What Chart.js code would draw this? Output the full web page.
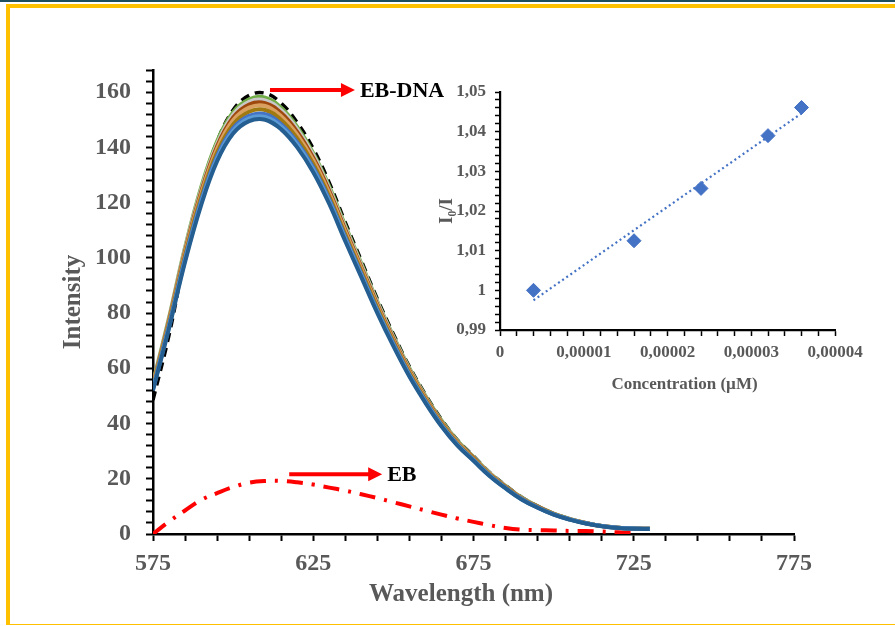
<!DOCTYPE html>
<html lang="en">
<head>
    <meta charset="UTF-8">
    <title>EB-DNA fluorescence</title>
    <script src="https://cdn.jsdelivr.net/npm/chart.js@4.4.1/dist/chart.umd.min.js"></script>
    <style>
        body { margin: 0; background: #fff; }
        #page { position: relative; width: 895px; height: 626px; overflow: hidden; }
        #topLine { position: absolute; left: 0; top: 0; width: 895px; height: 2px; background: #1f4e5f; }
        #frame { position: absolute; left: 6px; top: 4px; width: 900px; height: 621px; border-top: 4px solid #ffc000; border-left: 4px solid #ffc000; border-bottom: 1px solid #ffc000; box-sizing: border-box; }
        #mainChart { position: absolute; left: 0; top: 0; }
        #insetChart { position: absolute; left: 430px; top: 70px; }
    </style>
</head>
<body>
<div id="page">
    <div id="topLine"></div>
    <div id="frame"></div>
    <canvas id="mainChart" width="895" height="626"></canvas>
    <canvas id="insetChart" width="440" height="330"></canvas>
</div>
<script>
    // wavelength grid (nm)
    const wavelength = [575, 580, 585, 590, 595, 600, 605, 610, 615, 620, 625, 630, 635, 640, 645, 650,
        655, 660, 665, 670, 675, 680, 685, 690, 695, 700, 705, 710, 715, 720, 725, 730];

    // EB-DNA spectra with increasing quencher
    const ebDna = [48.5, 72, 100.5, 124.5, 142, 153.5, 158.8, 159.6, 156, 149, 139.5, 127.2, 112.8, 99, 85.1, 72.4,
        60.6, 50.5, 41.5, 34, 28.2, 22.3, 17.6, 13.3, 10.1, 7.4, 5.5, 4, 2.9, 2.3, 2, 1.9];
    const green = [54.8, 78.3, 103.7, 125.4, 142.2, 152.7, 157.4, 158, 154.3, 147.4, 137.9, 125.8, 111.6, 97.9, 84.2, 71.6,
        60, 50, 41.1, 33.7, 27.9, 22.1, 17.4, 13.2, 10, 7.4, 5.5, 4, 2.9, 2.3, 2, 1.9];
    const gray = [54.4, 77.9, 103.2, 124.6, 141.3, 151.8, 156.5, 157, 153.4, 146.6, 137.2, 125.1, 111, 97.4, 83.8, 71.2,
        59.7, 49.7, 40.8, 33.5, 27.7, 22, 17.3, 13.1, 9.9, 7.3, 5.4, 4, 2.9, 2.3, 2, 1.9];
    const brown = [54.1, 77.4, 102.5, 123.8, 140.4, 150.8, 155.5, 156, 152.4, 145.6, 136.2, 124.3, 110.2, 96.7, 83.2, 70.7,
        59.3, 49.4, 40.6, 33.3, 27.6, 21.8, 17.2, 13, 9.9, 7.3, 5.4, 4, 2.9, 2.3, 2, 1.9];
    const orange = [53.7, 76.9, 101.8, 123, 139.5, 149.8, 154.4, 155, 151.3, 144.6, 135.3, 123.4, 109.5, 96.1, 82.6, 70.2,
        58.9, 49.1, 40.3, 33.1, 27.4, 21.7, 17, 12.9, 9.8, 7.2, 5.4, 3.9, 2.9, 2.3, 2, 1.9];
    const gold = [53.2, 76.2, 100.8, 121.8, 138.1, 148.3, 152.9, 153.5, 149.9, 143.2, 134, 122.2, 108.4, 95.1, 81.8, 69.6,
        58.3, 48.6, 39.9, 32.7, 27.1, 21.5, 16.9, 12.8, 9.7, 7.2, 5.3, 3.9, 2.9, 2.3, 2, 1.9];
    const blue = [52.7, 75.5, 99.8, 120.6, 136.8, 146.9, 151.4, 152, 148.4, 141.8, 132.7, 121.1, 107.4, 94.2, 81, 68.9,
        57.7, 48.1, 39.5, 32.4, 26.8, 21.3, 16.7, 12.7, 9.6, 7.1, 5.3, 3.9, 2.9, 2.3, 2, 1.9];
    const lightBlue = [52.5, 75, 99.2, 119.8, 136, 146, 150.5, 151, 147.5, 141, 132, 120.4, 106.8, 93.7, 80.6, 68.5,
        57.4, 47.9, 39.3, 32.3, 26.7, 21.2, 16.6, 12.6, 9.6, 7.1, 5.3, 3.9, 2.9, 2.3, 2, 1.9];
    const darkBlue = [52, 74.5, 98.5, 119, 135, 145, 149.5, 150, 146.5, 140, 131, 119.5, 106, 93, 80, 68,
        57, 47.5, 39, 32, 26.5, 21, 16.5, 12.5, 9.5, 7, 5.2, 3.8, 2.8, 2.2, 1.9, 1.8];

    // free EB (ends at 725 nm)
    const ebFree = [0, 4.5, 8.5, 12.3, 14.8, 17, 18.6, 19.2, 19.2, 18.7, 17.9, 16.8, 15.7, 14.4, 13, 11.5,
        10, 8.5, 7, 5.6, 4.4, 3.2, 2.2, 1.6, 1.4, 1.3, 1.1, 1.1, 0.9, 0.6, 0.3];

    // inset: Stern-Volmer plot
    const concentration = [0.000004, 0.000016, 0.000024, 0.000032, 0.000036];
    const ratioI0I = [1.000, 1.0125, 1.0257, 1.0390, 1.0461];
    const trendX = [0.000004, 0.000036];
    const trendY = [0.9975, 1.0446];

    const serif = "'Liberation Serif', 'Times New Roman', serif";
    const tickGray = '#595959';

    function pts(xs, ys) {
        return ys.map((y, i) => ({ x: xs[i], y: y }));
    }

    function spectrum(values, color, extra) {
        return Object.assign({
            data: pts(wavelength, values),
            borderColor: color,
            borderWidth: 4,
            pointRadius: 0,
            fill: false,
            tension: 0.4
        }, extra || {});
    }

    // red arrows with labels, in data units
    const arrowNotes = [
        { x1: 611.5, x2: 638, y: 160.8, text: 'EB-DNA' },
        { x1: 617.5, x2: 646.5, y: 21.6, text: 'EB' }
    ];

    const arrowPlugin = {
        id: 'arrows',
        afterDatasetsDraw(chart) {
            const ctx = chart.ctx;
            const xs = chart.scales.x, ys = chart.scales.y;
            ctx.save();
            arrowNotes.forEach(a => {
                const x1 = xs.getPixelForValue(a.x1);
                const x2 = xs.getPixelForValue(a.x2);
                const y = ys.getPixelForValue(a.y);
                ctx.strokeStyle = '#ff0000';
                ctx.fillStyle = '#ff0000';
                ctx.lineWidth = 4;
                ctx.beginPath();
                ctx.moveTo(x1, y);
                ctx.lineTo(x2 - 12, y);
                ctx.stroke();
                ctx.beginPath();
                ctx.moveTo(x2, y);
                ctx.lineTo(x2 - 14, y - 7);
                ctx.lineTo(x2 - 14, y + 7);
                ctx.closePath();
                ctx.fill();
                ctx.fillStyle = '#000';
                ctx.font = 'bold 22px ' + serif;
                ctx.textBaseline = 'middle';
                ctx.textAlign = 'left';
                ctx.fillText(a.text, x2 + 5, y + 1);
            });
            ctx.restore();
        }
    };

    new Chart(document.getElementById('mainChart'), {
        type: 'line',
        data: {
            datasets: [
                spectrum(darkBlue, '#255e91'),
                spectrum(lightBlue, '#5b9bd5'),
                spectrum(blue, '#4472c4'),
                spectrum(gold, '#a07a10'),
                spectrum(orange, '#d9a060'),
                spectrum(brown, '#9e480e'),
                spectrum(gray, '#c8c8c8'),
                spectrum(green, '#70ad47'),
                spectrum(ebDna, '#000000', { borderWidth: 3.5, borderDash: [9, 6] }),
                spectrum(ebFree, '#ff0000', { borderWidth: 4, borderDash: [16, 9, 3, 9] })
            ]
        },
        options: {
            responsive: false,
            animation: false,
            layout: { padding: { left: 0, top: 70, right: 101, bottom: 0 } },
            plugins: { legend: { display: false }, tooltip: { enabled: false } },
            scales: {
                x: {
                    type: 'linear',
                    min: 575,
                    max: 775,
                    afterFit: s => { s.height = 92; },
                    border: { color: '#000', width: 2.5 },
                    grid: { drawOnChartArea: false, tickLength: 7, tickColor: '#000', tickWidth: 2 },
                    ticks: {
                        stepSize: 10,
                        autoSkip: false,
                        maxRotation: 0,
                        padding: 8,
                        color: tickGray,
                        font: { family: serif, size: 24, weight: 'bold' },
                        callback: v => ((v - 575) % 50 === 0 ? String(v) : '')
                    },
                    title: {
                        display: true,
                        text: 'Wavelength (nm)\u2007\u2007',
                        color: tickGray,
                        font: { family: serif, size: 25, weight: 'bold' },
                        padding: { top: 0, bottom: 16 }
                    }
                },
                y: {
                    min: 0,
                    max: 168,
                    afterFit: s => { s.width = 153; },
                    border: { color: '#000', width: 2.5 },
                    grid: { drawOnChartArea: false, tickLength: 7, tickColor: '#000', tickWidth: 2 },
                    ticks: {
                        stepSize: 4,
                        autoSkip: false,
                        padding: 15,
                        color: tickGray,
                        font: { family: serif, size: 24, weight: 'bold' },
                        callback: v => (v % 20 === 0 ? String(v) : '')
                    },
                    title: {
                        display: true,
                        text: 'Intensity',
                        color: tickGray,
                        font: { family: serif, size: 25, weight: 'bold' },
                        padding: { top: 59, bottom: 0 }
                    }
                }
            }
        },
        plugins: [arrowPlugin]
    });

    new Chart(document.getElementById('insetChart'), {
        type: 'scatter',
        data: {
            datasets: [
                {
                    data: pts(concentration, ratioI0I),
                    pointStyle: 'rectRot',
                    pointRadius: 7,
                    backgroundColor: '#4472c4',
                    borderColor: '#4472c4',
                    borderWidth: 1
                },
                {
                    data: pts(trendX, trendY),
                    showLine: true,
                    borderColor: '#4472c4',
                    borderWidth: 2.2,
                    borderDash: [2, 3],
                    pointRadius: 0
                }
            ]
        },
        options: {
            responsive: false,
            animation: false,
            layout: { padding: { left: 0, top: 22, right: 35, bottom: 0 } },
            plugins: { legend: { display: false }, tooltip: { enabled: false } },
            scales: {
                x: {
                    type: 'linear',
                    min: 0,
                    max: 0.00004,
                    afterFit: s => { s.height = 70; },
                    border: { color: '#000', width: 2.2 },
                    grid: { drawOnChartArea: false, tickLength: 6, tickColor: '#000', tickWidth: 1.5 },
                    ticks: {
                        stepSize: 0.000002,
                        autoSkip: false,
                        maxRotation: 0,
                        padding: 6,
                        color: tickGray,
                        font: { family: serif, size: 17, weight: 'bold' },
                        callback: v => {
                            const k = v * 1e5;
                            if (Math.abs(k - Math.round(k)) > 1e-6) return '';
                            return Math.round(k) === 0 ? '0' : (Math.round(k) / 1e5).toFixed(5).replace('.', ',');
                        }
                    },
                    title: {
                        display: true,
                        text: '\u2007\u2007\u2007\u2007Concentration (µM)',
                        color: tickGray,
                        font: { family: serif, size: 17, weight: 'bold' },
                        padding: { top: 0, bottom: 5 }
                    }
                },
                y: {
                    min: 0.99,
                    max: 1.05,
                    afterFit: s => { s.width = 70; },
                    border: { color: '#000', width: 2.2 },
                    grid: { drawOnChartArea: false, tickLength: 5, tickColor: '#000', tickWidth: 1.5 },
                    ticks: {
                        stepSize: 0.002,
                        autoSkip: false,
                        padding: 9,
                        color: tickGray,
                        font: { family: serif, size: 17, weight: 'bold' },
                        callback: v => {
                            const k = v * 100;
                            if (Math.abs(k - Math.round(k)) > 1e-6) return '';
                            return String(Math.round(k) / 100).replace('.', ',');
                        }
                    },
                    title: {
                        display: true,
                        text: 'I₀/I',
                        color: tickGray,
                        font: { family: serif, size: 19, weight: 'bold' },
                        padding: { top: 6, bottom: 0 }
                    }
                }
            }
        }
    });
</script>
</body>
</html>
